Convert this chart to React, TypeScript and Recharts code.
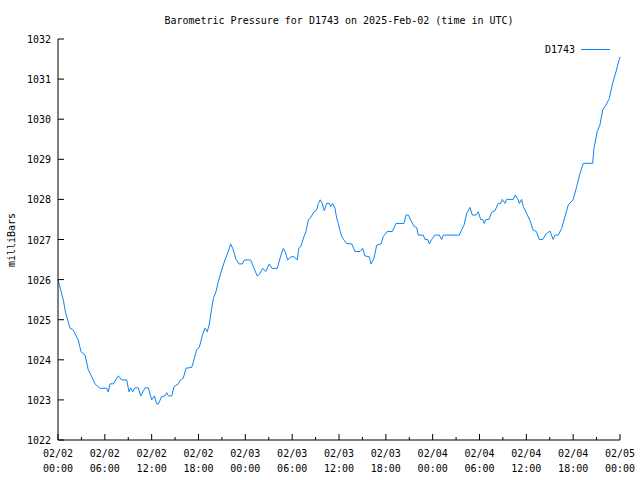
import { LineChart, Line, XAxis, YAxis } from "recharts";

// hours since 2025-02-02 00:00 UTC
const HOURS = [
  0, 0.68, 0.99, 1.54, 1.96, 2.6, 2.95, 3.46, 3.88, 4.32, 4.74, 5.38, 6.24, 6.44, 6.66, 7.08,
  7.72, 8.16, 8.8, 9.1, 9.31, 9.57, 9.86, 10.29, 10.59, 11.15, 11.57, 12.0, 12.34, 12.64, 12.85,
  13.28, 13.71, 13.93, 14.13, 14.57, 14.86, 15.41, 15.72, 16.05, 16.4, 17.13, 17.42, 17.77,
  18.1, 18.54, 18.83, 19.13, 19.38, 19.69, 19.9, 20.24, 20.54, 20.97, 21.39, 21.82, 22.12,
  22.38, 22.8, 23.19, 23.61, 23.87, 24.69, 25.11, 25.53, 25.79, 26.22, 26.61, 27.07, 27.42,
  28.09, 28.53, 28.86, 29.08, 29.43, 29.85, 30.23, 30.66, 30.84, 31.09, 31.51, 31.77, 32.07,
  32.37, 32.8, 33.14, 33.35, 33.6, 33.86, 34.12, 34.42, 34.76, 34.94, 35.19, 35.49, 35.7,
  35.91, 36.22, 36.47, 36.98, 37.63, 38.05, 38.69, 39.03, 39.33, 39.88, 40.1, 40.48, 40.83,
  41.38, 41.67, 42.19, 42.83, 43.3, 44.33, 44.58, 44.88, 45.31, 45.64, 45.95, 46.16, 46.8,
  47.02, 47.36, 47.57, 47.87, 48.3, 48.85, 49.15, 49.36, 51.41, 51.72, 52.01, 52.36, 52.78,
  53.08, 53.55, 53.84, 54.15, 54.41, 54.61, 54.83, 55.21, 55.56, 55.98, 56.41, 56.71, 56.92,
  57.26, 57.48, 58.33, 58.59, 58.97, 59.1, 59.4, 59.61, 60.04, 60.47, 60.89, 61.28, 61.66,
  62.1, 62.52, 63.03, 63.45, 63.67, 64.09, 64.53, 64.95, 65.37, 66.01, 66.45, 66.87, 67.3,
  68.5, 68.66, 69.09, 69.43, 69.78, 70.2, 70.63, 71.06, 71.48, 71.9, 72,
];

const PRESSURE = [
  1026.0, 1025.49, 1025.16, 1024.79, 1024.74, 1024.49, 1024.2, 1024.12, 1023.75, 1023.58,
  1023.4, 1023.29, 1023.29, 1023.2, 1023.4, 1023.4, 1023.6, 1023.5, 1023.5, 1023.2, 1023.3,
  1023.2, 1023.3, 1023.3, 1023.1, 1023.3, 1023.3, 1023.0, 1023.1, 1022.9, 1022.9, 1023.08,
  1023.1, 1023.18, 1023.1, 1023.1, 1023.33, 1023.4, 1023.5, 1023.54, 1023.79, 1023.81, 1024.0,
  1024.26, 1024.31, 1024.64, 1024.79, 1024.7, 1024.89, 1025.28, 1025.53, 1025.7, 1025.95,
  1026.24, 1026.49, 1026.7, 1026.89, 1026.78, 1026.51, 1026.39, 1026.39, 1026.49, 1026.49,
  1026.28, 1026.09, 1026.13, 1026.28, 1026.2, 1026.39, 1026.28, 1026.28, 1026.59, 1026.78,
  1026.7, 1026.49, 1026.57, 1026.57, 1026.49, 1026.78, 1026.82, 1027.07, 1027.2, 1027.49,
  1027.55, 1027.69, 1027.74, 1027.9, 1027.99, 1027.89, 1027.72, 1027.9, 1027.9, 1027.82,
  1027.9, 1027.78, 1027.53, 1027.4, 1027.15, 1027.03, 1026.9, 1026.89, 1026.7, 1026.7,
  1026.78, 1026.59, 1026.57, 1026.39, 1026.53, 1026.86, 1026.89, 1027.07, 1027.2, 1027.2,
  1027.4, 1027.4, 1027.61, 1027.61, 1027.44, 1027.32, 1027.3, 1027.11, 1027.11, 1027.0,
  1027.0, 1026.89, 1027.0, 1027.11, 1027.11, 1027.0, 1027.11, 1027.11, 1027.24, 1027.36,
  1027.65, 1027.8, 1027.61, 1027.61, 1027.69, 1027.5, 1027.5, 1027.4, 1027.5, 1027.5,
  1027.68, 1027.72, 1027.9, 1027.9, 1028.0, 1027.9, 1028.0, 1028.0, 1028.11, 1027.99, 1027.9,
  1028.0, 1027.82, 1027.65, 1027.47, 1027.23, 1027.2, 1027.0, 1027.0, 1027.14, 1027.21,
  1027.0, 1027.11, 1027.11, 1027.28, 1027.57, 1027.86, 1028.0, 1028.32, 1028.65, 1028.9,
  1028.9, 1029.27, 1029.69, 1029.86, 1030.23, 1030.35, 1030.52, 1030.9, 1031.18, 1031.49,
  1031.55,
];

const X_TICKS = [0, 3, 6, 9, 12, 15, 18, 21, 24, 27, 30, 33, 36, 39, 42, 45, 48, 51, 54, 57, 60, 63, 66, 69, 72];
const Y_TICKS = [1022, 1023, 1024, 1025, 1026, 1027, 1028, 1029, 1030, 1031, 1032];
const DAY_LABELS = ["02/02", "02/03", "02/04", "02/05"];

const FONT = "'DejaVu Sans Mono', 'Liberation Mono', monospace";
const LINE_COLOR = "#0d84f2";

const data = HOURS.map((h, i) => ({ h, p: PRESSURE[i] }));

const pad = (n: number) => (n < 10 ? "0" + n : String(n));

function BottomTick({ x, y, payload }: any) {
  const h = payload.value;
  const major = h % 6 === 0;
  return (
    <g>
      <line x1={x} x2={x} y1={y} y2={y - (major ? 6 : 3)} stroke="#000" />
      {major && (
        <text textAnchor="middle" fontFamily={FONT} fontSize={10} fill="#000">
          <tspan x={x} y={y + 17}>{DAY_LABELS[Math.floor(h / 24)]}</tspan>
          <tspan x={x} y={y + 32}>{pad(h % 24)}:00</tspan>
        </text>
      )}
    </g>
  );
}

function TopTick({ x, y, payload }: any) {
  const major = payload.value % 6 === 0;
  return <line x1={x} x2={x} y1={y} y2={y + (major ? 6 : 3)} stroke="#000" />;
}

function LeftTick({ x, y, payload }: any) {
  return (
    <g>
      <line x1={x} x2={x + 6} y1={y} y2={y} stroke="#000" />
      <text x={x - 7} y={y + 4} textAnchor="end" fontFamily={FONT} fontSize={10} fill="#000">
        {payload.value}
      </text>
    </g>
  );
}

function RightTick({ x, y }: any) {
  return <line x1={x} x2={x - 6} y1={y} y2={y} stroke="#000" />;
}

export default function App() {
  return (
    <div style={{ position: "absolute", left: 0, top: 0, width: 640, height: 480, background: "#fff" }}>
      <LineChart width={640} height={480} data={data} margin={{ top: 39, right: 20, bottom: 0, left: 0 }}>
        <XAxis
          dataKey="h"
          type="number"
          domain={[0, 72]}
          ticks={X_TICKS}
          interval={0}
          height={40}
          tickSize={0}
          tickMargin={0}
          tickLine={false}
          axisLine={{ stroke: "#000" }}
          tick={<BottomTick />}
        />
        <XAxis
          xAxisId="top"
          orientation="top"
          dataKey="h"
          type="number"
          domain={[0, 72]}
          ticks={X_TICKS}
          interval={0}
          height={0}
          tickSize={0}
          tickMargin={0}
          tickLine={false}
          axisLine={{ stroke: "#000" }}
          tick={<TopTick />}
        />
        <YAxis
          type="number"
          domain={[1022, 1032]}
          ticks={Y_TICKS}
          interval={0}
          width={58}
          tickSize={0}
          tickMargin={0}
          tickLine={false}
          axisLine={{ stroke: "#000" }}
          tick={<LeftTick />}
        />
        <YAxis
          yAxisId="right"
          orientation="right"
          type="number"
          domain={[1022, 1032]}
          ticks={Y_TICKS}
          interval={0}
          width={0}
          tickSize={0}
          tickMargin={0}
          tickLine={false}
          axisLine={{ stroke: "#000" }}
          tick={<RightTick />}
        />
        <Line
          type="linear"
          dataKey="p"
          stroke={LINE_COLOR}
          strokeWidth={1}
          dot={false}
          isAnimationActive={false}
        />
      </LineChart>
      <svg
        width={640}
        height={480}
        style={{ position: "absolute", left: 0, top: 0, pointerEvents: "none" }}
      >
        <text x={339} y={24} textAnchor="middle" fontFamily={FONT} fontSize={10} fill="#000">
          Barometric Pressure for D1743 on 2025-Feb-02 (time in UTC)
        </text>
        <text
          x={0}
          y={0}
          transform="translate(15,240) rotate(-90)"
          textAnchor="middle"
          fontFamily={FONT}
          fontSize={10}
          fill="#000"
        >
          milliBars
        </text>
        <text x={575} y={53} textAnchor="end" fontFamily={FONT} fontSize={10} fill="#000">
          D1743
        </text>
        <line x1={581} x2={610} y1={49.5} y2={49.5} stroke={LINE_COLOR} strokeWidth={1} />
      </svg>
    </div>
  );
}
